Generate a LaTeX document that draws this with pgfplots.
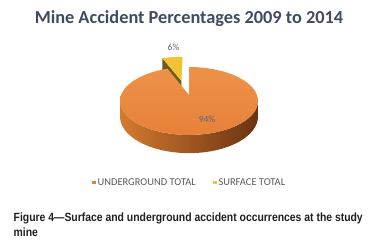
\documentclass[border=0pt]{standalone}
\usepackage{pgfplots}
\pgfplotsset{compat=1.18}
\usepackage{pgfplotstable}
\usepackage{fontspec}
\setmainfont{Carlito}
\newfontfamily\capfont[FakeStretch=0.87]{Liberation Sans}
\definecolor{titlec}{HTML}{3E4B63}
\definecolor{labc}{HTML}{5A6276}
\definecolor{legc}{HTML}{595959}
\definecolor{orangeTop}{HTML}{E7813A}
\definecolor{orangeTopL}{HTML}{EE9249}
\definecolor{sideL}{HTML}{D47A30}
\definecolor{sideM}{HTML}{B35B20}
\definecolor{sideR}{HTML}{6A3311}
\definecolor{yellowTop}{HTML}{F1C232}
\definecolor{yellowDark}{HTML}{6D5B1D}
\definecolor{legOrange}{HTML}{ED7D31}
\definecolor{legYellow}{HTML}{F4C430}
\definecolor{capc}{HTML}{231F20}

\pgfplotstableread{
label value
Underground 94
Surface 6
}\pietable

\begin{document}
\begin{tikzpicture}[declare function={
  PX(\x,\z)=189+67.9*\x/(1+0.176*\z);
  PY(\x,\z)=95-32.9*\z/(1+0.176*\z);
  PB(\x,\z)=95+(15-32.9*\z)/(1+0.176*\z);
}]
\pgfplotstablegetelem{0}{value}\of\pietable \let\valA\pgfplotsretval
\pgfplotstablegetelem{1}{value}\of\pietable \let\valB\pgfplotsretval
\pgfmathsetmacro\angA{360/(\valA+\valB)*\valA}
\def\ex{-0.12}
\def\ez{0.46}
\begin{axis}[
  width=369bp, height=247bp, scale only axis,
  xmin=0, xmax=369, ymin=0, ymax=247, y dir=reverse,
  hide axis, clip=false,
  legend columns=2,
  legend style={at={(axis cs:189.5,182.5)}, anchor=center, draw=none, fill=none,
    font=\fontsize{10.5}{12}\selectfont, text=legc,
    /tikz/every even column/.append style={column sep=15bp}},
  legend image code/.code={\fill[#1] (0bp,-1.8bp) rectangle (3.8bp,2bp);},
]
\addlegendimage{fill=legOrange, draw=none}
\addlegendentry{UNDERGROUND TOTAL}
\addlegendimage{fill=legYellow, draw=none}
\addlegendentry{SURFACE TOTAL}

% full frame for the bounding box
\path (axis cs:0,0) rectangle (axis cs:369,247);

% exploded small slice (behind)
\fill[yellowDark] (axis cs:{PX(\ex,\ez)},{PY(\ex,\ez)})
  -- (axis cs:{PX(\ex+sin(\angA),\ez+cos(\angA))},{PY(\ex+sin(\angA),\ez+cos(\angA))})
  -- (axis cs:{PX(\ex+sin(\angA),\ez+cos(\angA))},{PB(\ex+sin(\angA),\ez+cos(\angA))})
  -- (axis cs:{PX(\ex,\ez)},{PB(\ex,\ez)}) -- cycle;
\fill[yellowTop] (axis cs:{PX(\ex,\ez)},{PY(\ex,\ez)})
  -- plot[domain=\angA:360, samples=20, variable=\t]
     ({PX(\ex+sin(\t),\ez+cos(\t))},{PY(\ex+sin(\t),\ez+cos(\t))}) -- cycle;

% big slice: side
\shade[left color=sideL, middle color=sideM, right color=sideR]
  plot[domain=100.1:259.9, samples=70, variable=\t]
     ({PX(sin(\t),cos(\t))},{PY(sin(\t),cos(\t))})
  -- plot[domain=259.9:100.1, samples=70, variable=\t]
     ({PX(sin(\t),cos(\t))},{PB(sin(\t),cos(\t))}) -- cycle;
% big slice: top
\shade[top color=orangeTopL, bottom color=orangeTop]
  (axis cs:189,95)
  -- plot[domain=0:\angA, samples=100, variable=\t]
     ({PX(sin(\t),cos(\t))},{PY(sin(\t),cos(\t))}) -- cycle;

% data labels
\node[text=labc, font=\fontsize{9.5}{10}\selectfont] at (axis cs:207,119) {\valA\%};
\node[text=labc, font=\fontsize{9.5}{10}\selectfont] at (axis cs:173.5,47.5) {\valB\%};

% title
\node[anchor=base, text=titlec, font=\bfseries\fontsize{18.4}{20}\selectfont, inner sep=0pt]
  at (axis cs:189,24) {Mine Accident Percentages 2009 to 2014};

% caption
\node[anchor=base west, text=capc, font=\capfont\bfseries\fontsize{12}{14}\selectfont, inner sep=0pt]
  at (axis cs:13.5,221) {Figure 4—Surface and underground accident occurrences at the study};
\node[anchor=base west, text=capc, font=\capfont\bfseries\fontsize{12}{14}\selectfont, inner sep=0pt]
  at (axis cs:13.5,236) {mine};
\end{axis}
\end{tikzpicture}
\end{document}
